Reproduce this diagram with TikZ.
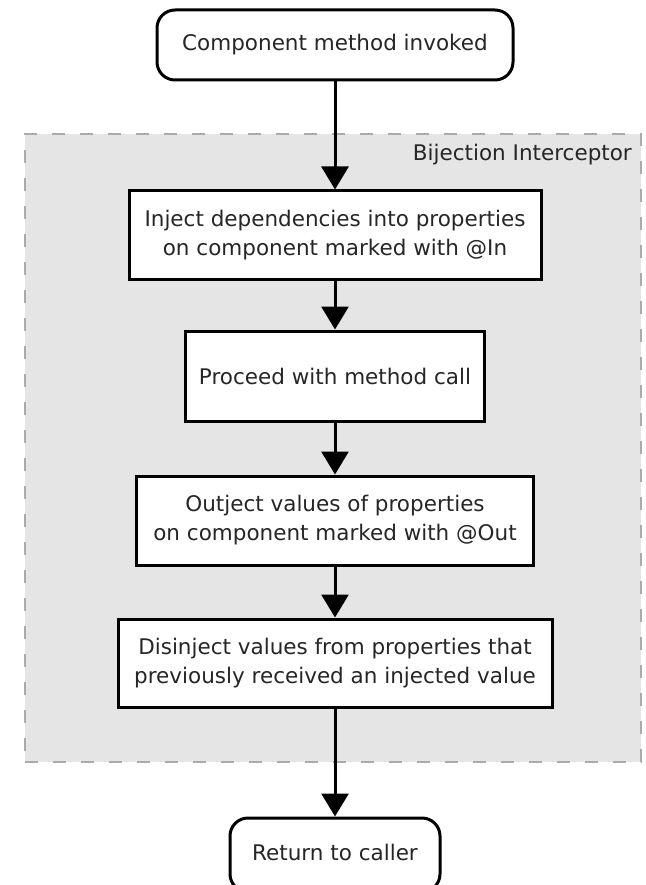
\documentclass[tikz,border=0pt]{standalone}
\usepackage{fontspec}
\setmainfont{DejaVu Sans}
\usetikzlibrary{arrows.meta}
\definecolor{regionfill}{HTML}{E5E5E5}
\definecolor{regionedge}{HTML}{ABABAB}
\definecolor{inktext}{HTML}{262626}
\begin{document}
\begin{tikzpicture}[x=1pt,y=-1pt,
  every node/.style={font=\fontsize{21.5}{29}\selectfont, text=inktext, align=center, inner sep=2pt},
  terminal/.style={draw=black, line width=3pt, fill=white, rounded corners=18pt},
  stepbox/.style={draw=black, line width=3pt, fill=white},
  region/.style={draw=regionedge, fill=regionfill, line width=1.4pt, dash pattern=on 13pt off 15pt},
  flow/.style={draw=black, line width=3pt, -{Triangle[width=27pt,length=23pt]}}]
\useasboundingbox (0,0) rectangle (645,885);

% interceptor region behind the inner steps
\node[region, minimum width=616pt, minimum height=628pt] (icpt) at (333,448) {};
\node[anchor=east, inner sep=0pt] (icptlabel) at (632,155) {Bijection Interceptor};

% steps
\node[terminal, minimum width=356pt, minimum height=70pt] (start) at (335,45) {Component method invoked};
\node[stepbox, minimum width=412pt, minimum height=88pt] (inject) at (335,235)
  {Inject dependencies into properties\\on component marked with @In};
\node[stepbox, minimum width=299pt, minimum height=90pt] (proceed) at (335,376)
  {Proceed with method call};
\node[stepbox, minimum width=397pt, minimum height=89pt] (outject) at (335,520.5)
  {Outject values of properties\\on component marked with @Out};
\node[stepbox, minimum width=434pt, minimum height=88pt] (disinject) at (335,663)
  {Disinject values from properties that\\previously received an injected value};
\node[terminal, minimum width=210pt, minimum height=74pt] (finish) at (335,855) {};
\node (finishtext) at (335,852) {Return to caller};

% connectors
\draw[flow] (start) -- (inject);
\draw[flow] (inject) -- (proceed);
\draw[flow] (proceed) -- (outject);
\draw[flow] (outject) -- (disinject);
\draw[flow] (disinject) -- (finish);
\end{tikzpicture}
\end{document}
